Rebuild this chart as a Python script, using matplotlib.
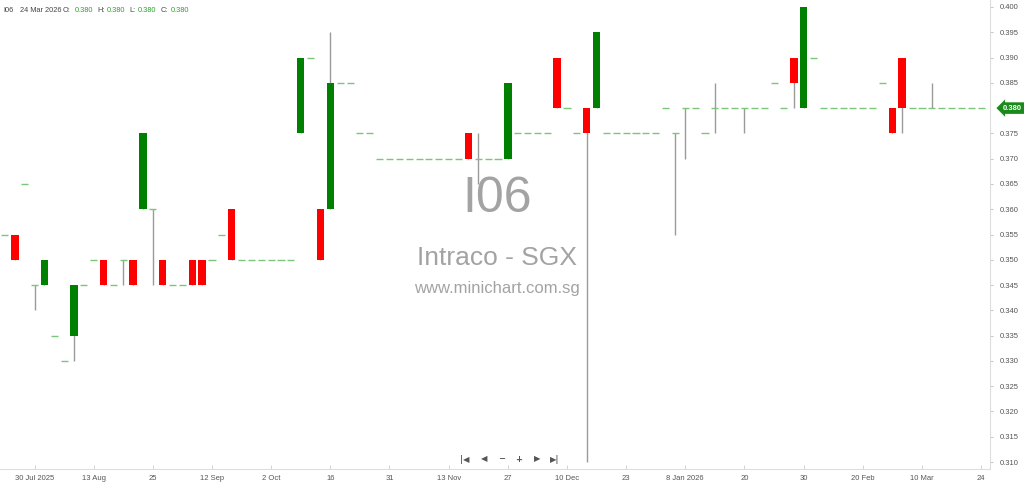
import numpy as np
import matplotlib
matplotlib.use('Agg')
import matplotlib.pyplot as plt

plt.rcParams['font.family'] = ['Liberation Sans', 'DejaVu Sans']

# daily bars, oldest first (price in SGD)
opens = [0.355, 0.355, 0.365, 0.345, 0.345, 0.335, 0.330, 0.335, 0.345, 0.350,
         0.350, 0.345, 0.350, 0.350, 0.360, 0.360, 0.350, 0.345, 0.345, 0.350,
         0.350, 0.350, 0.355, 0.360, 0.350, 0.350, 0.350, 0.350, 0.350, 0.350,
         0.375, 0.390, 0.360, 0.360, 0.385, 0.385, 0.375, 0.375, 0.370, 0.370,
         0.370, 0.370, 0.370, 0.370, 0.370, 0.370, 0.370, 0.375, 0.370, 0.370,
         0.370, 0.370, 0.375, 0.375, 0.375, 0.375, 0.390, 0.380, 0.375, 0.380,
         0.380, 0.375, 0.375, 0.375, 0.375, 0.375, 0.375, 0.380, 0.375, 0.380,
         0.380, 0.375, 0.380, 0.380, 0.380, 0.380, 0.380, 0.380, 0.385, 0.380,
         0.390, 0.380, 0.390, 0.380, 0.380, 0.380, 0.380, 0.380, 0.380, 0.385,
         0.380, 0.390, 0.380, 0.380, 0.380, 0.380, 0.380, 0.380, 0.380, 0.380]
highs = [0.355, 0.355, 0.365, 0.345, 0.350, 0.335, 0.330, 0.345, 0.345, 0.350,
         0.350, 0.345, 0.350, 0.350, 0.375, 0.360, 0.350, 0.345, 0.345, 0.350,
         0.350, 0.350, 0.355, 0.360, 0.350, 0.350, 0.350, 0.350, 0.350, 0.350,
         0.390, 0.390, 0.360, 0.395, 0.385, 0.385, 0.375, 0.375, 0.370, 0.370,
         0.370, 0.370, 0.370, 0.370, 0.370, 0.370, 0.370, 0.375, 0.375, 0.370,
         0.370, 0.385, 0.375, 0.375, 0.375, 0.375, 0.390, 0.380, 0.375, 0.380,
         0.395, 0.375, 0.375, 0.375, 0.375, 0.375, 0.375, 0.380, 0.375, 0.380,
         0.380, 0.375, 0.385, 0.380, 0.380, 0.380, 0.380, 0.380, 0.385, 0.380,
         0.390, 0.400, 0.390, 0.380, 0.380, 0.380, 0.380, 0.380, 0.380, 0.385,
         0.380, 0.390, 0.380, 0.380, 0.385, 0.380, 0.380, 0.380, 0.380, 0.380]
lows = [0.355, 0.350, 0.365, 0.340, 0.345, 0.335, 0.330, 0.330, 0.345, 0.350,
        0.345, 0.345, 0.345, 0.345, 0.360, 0.345, 0.345, 0.345, 0.345, 0.345,
        0.345, 0.350, 0.355, 0.350, 0.350, 0.350, 0.350, 0.350, 0.350, 0.350,
        0.375, 0.390, 0.350, 0.360, 0.385, 0.385, 0.375, 0.375, 0.370, 0.370,
        0.370, 0.370, 0.370, 0.370, 0.370, 0.370, 0.370, 0.370, 0.365, 0.370,
        0.370, 0.370, 0.375, 0.375, 0.375, 0.375, 0.380, 0.380, 0.375, 0.310,
        0.380, 0.375, 0.375, 0.375, 0.375, 0.375, 0.375, 0.380, 0.355, 0.370,
        0.380, 0.375, 0.375, 0.380, 0.380, 0.375, 0.380, 0.380, 0.385, 0.380,
        0.380, 0.380, 0.390, 0.380, 0.380, 0.380, 0.380, 0.380, 0.380, 0.385,
        0.375, 0.375, 0.380, 0.380, 0.380, 0.380, 0.380, 0.380, 0.380, 0.380]
closes = [0.355, 0.350, 0.365, 0.345, 0.350, 0.335, 0.330, 0.345, 0.345, 0.350,
          0.345, 0.345, 0.350, 0.345, 0.375, 0.360, 0.345, 0.345, 0.345, 0.345,
          0.345, 0.350, 0.355, 0.350, 0.350, 0.350, 0.350, 0.350, 0.350, 0.350,
          0.390, 0.390, 0.350, 0.385, 0.385, 0.385, 0.375, 0.375, 0.370, 0.370,
          0.370, 0.370, 0.370, 0.370, 0.370, 0.370, 0.370, 0.370, 0.370, 0.370,
          0.370, 0.385, 0.375, 0.375, 0.375, 0.375, 0.380, 0.380, 0.375, 0.375,
          0.395, 0.375, 0.375, 0.375, 0.375, 0.375, 0.375, 0.380, 0.375, 0.380,
          0.380, 0.375, 0.380, 0.380, 0.380, 0.380, 0.380, 0.380, 0.385, 0.380,
          0.385, 0.400, 0.390, 0.380, 0.380, 0.380, 0.380, 0.380, 0.380, 0.385,
          0.375, 0.380, 0.380, 0.380, 0.380, 0.380, 0.380, 0.380, 0.380, 0.380]

date_labels = ['30 Jul 2025', '13 Aug', '25', '12 Sep', '2 Oct', '16', '31', '13 Nov', '27',
               '10 Dec', '23', '8 Jan 2026', '20', '30', '20 Feb', '10 Mar', '24']
date_ticks = list(range(3, 100, 6))

last_close = closes[-1]

o = np.array(opens)
h = np.array(highs)
l = np.array(lows)
c = np.array(closes)
x = np.arange(len(o))

fig = plt.figure(figsize=(10.24, 4.84), dpi=100)
ax = fig.add_axes([0, 15 / 484, 990 / 1024, 469 / 484])

# wicks
has_range = h > l
ax.vlines(x[has_range], l[has_range], h[has_range], color='#9a9a9a', lw=1, zorder=1)

# bodies
up = c > o
down = c < o
ax.bar(x[up], (c - o)[up], bottom=o[up], width=0.76, color='#008000', lw=0, zorder=2)
ax.bar(x[down], (c - o)[down], bottom=o[down], width=0.76, color='#ff0000', lw=0, zorder=2)

# unchanged bars as short dashes
flat = c == o
ax.hlines(c[flat], x[flat] - 0.36, x[flat] + 0.36, color='#7cc67c', lw=1, zorder=3)

ax.set_xlim(-0.5, 99.9)
ax.set_ylim(0.30862, 0.40138)

# axes styling
for s in ['top', 'left']:
    ax.spines[s].set_visible(False)
ax.spines['bottom'].set_color('#dddddd')
ax.spines['right'].set_color('#dddddd')

yt = [v for v in np.round(np.arange(0.310, 0.4001, 0.005), 3) if abs(v - last_close) > 1e-6]
ax.set_yticks(yt)
ax.set_yticklabels(['%.3f' % v for v in yt])
ax.yaxis.tick_right()
ax.tick_params(axis='y', length=2, width=0.6, color='#bbbbbb', labelsize=5.5,
               labelcolor='#555555', pad=5)
ax.set_xticks(date_ticks)
ax.set_xticklabels(date_labels)
ax.tick_params(axis='x', length=3, width=0.6, color='#cccccc', direction='in',
               labelsize=5.5, labelcolor='#555555', pad=4)

# last price tag
ax.text(1.013, last_close, '%.3f' % last_close, transform=ax.get_yaxis_transform(),
        fontsize=5.5, color='white', fontweight='bold', va='center', ha='left', clip_on=False,
        bbox=dict(boxstyle='larrow,pad=0.3', fc='#1a8a1a', ec='none'))

# watermark
ax.text(0.502, 0.575, 'I06', transform=ax.transAxes, fontsize=36, color='#a3a3a3',
        ha='center', va='center', zorder=0)
ax.text(0.502, 0.45, 'Intraco - SGX', transform=ax.transAxes, fontsize=19, color='#a3a3a3',
        ha='center', va='center', zorder=0)
ax.text(0.502, 0.384, 'www.minichart.com.sg', transform=ax.transAxes, fontsize=12,
        color='#a3a3a3', ha='center', va='center', zorder=0)

# header
hy = 1 - 10 / 484
parts = [(3, 'I06', '#444444'), (20, '24 Mar 2026', '#444444'),
         (63, 'O:', '#444444'), (75, '0.380', '#2e9e2e'),
         (97, 'H:', '#444444'), (107, '0.380', '#2e9e2e'),
         (129, 'L:', '#444444'), (138, '0.380', '#2e9e2e'),
         (161, 'C:', '#444444'), (171, '0.380', '#2e9e2e')]
for px, txt, col in parts:
    fig.text(px / 1024, hy, txt, fontsize=5.3, color=col, va='center', ha='left')

# navigation buttons
ny = 1 - 459 / 484
navs = [(465, '|◀'), (484, '◀'), (502, '−'), (519, '+'), (537, '▶'), (555, '▶|')]
for px, txt in navs:
    fig.text(px / 1024, ny, txt, fontsize=6, color='#555555', va='center', ha='center',
             family='DejaVu Sans', fontweight='bold')

plt.savefig('out.png', dpi=100)
